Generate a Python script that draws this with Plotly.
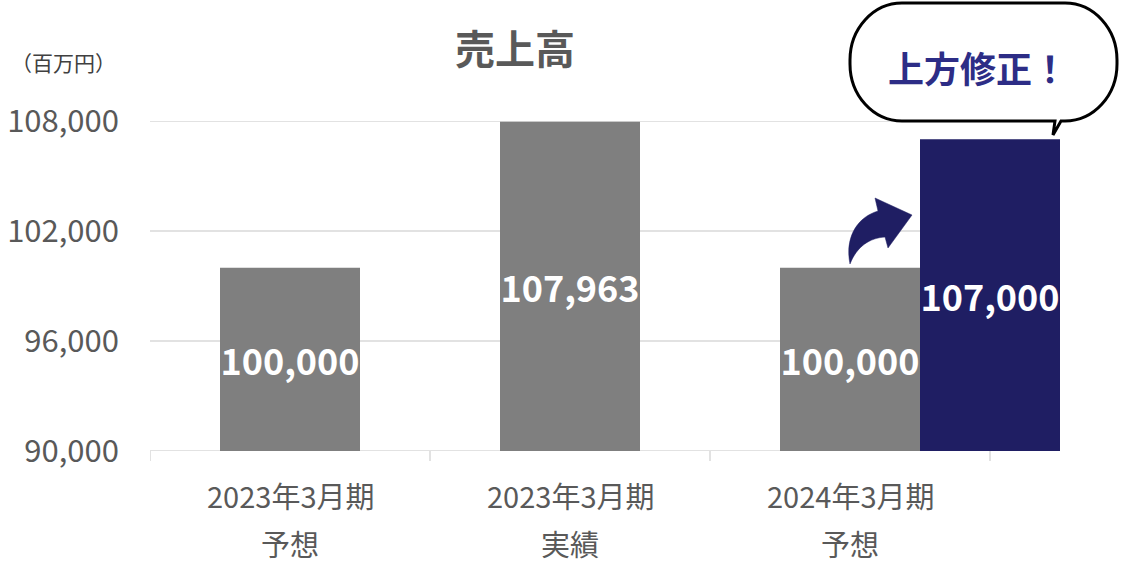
import plotly.graph_objects as go

# ---- data ----
categories_line1 = ["2023年3月期", "2023年3月期", "2024年3月期"]
categories_line2 = ["予想", "実績", "予想"]
gray_values = [100000, 107963, 100000]
revised_values = [107000]
y_ticks = [90000, 96000, 102000, 108000]
y_tick_labels = ["90,000", "96,000", "102,000", "108,000"]
y_base = 90000
y_top = 108000

# ---- layout constants (pixels, in reference screenshot coordinates) ----
W, H = 1128, 563
L, R, T, B = 150, 1062, 121, 451
SLOT = 280.0
x_max = (R - L) / SLOT
FONT = "Noto Sans CJK JP"
GRAY = "#7f7f7f"
NAVY = "#1f1e63"
GRID = "#d9d9d9"
TXT = "#595959"

slot_centers = [i + 0.5 for i in range(len(gray_values))]
revised_x = [len(gray_values)]


def px(x):
    return (x - L) / (R - L)


def py(y):
    return (B - y) / (B - T)


def ppath(cmds):
    out = []
    for c in cmds:
        op = c[0]
        pts = c[1:]
        s = op
        for i in range(0, len(pts), 2):
            s += f" {px(pts[i]):.5f},{py(pts[i+1]):.5f}"
        out.append(s)
    return " ".join(out) + " Z"


fig = go.Figure()
fig.add_trace(go.Bar(
    x=slot_centers, y=[v - y_base for v in gray_values], base=y_base, width=0.5,
    marker=dict(color=GRAY, line=dict(width=0)),
    text=[f"{v:,}" for v in gray_values], textposition="inside", insidetextanchor="middle",
    textangle=0,
    textfont=dict(color="white", size=36, family=FONT, weight="bold"),
    hoverinfo="skip", showlegend=False,
))
fig.add_trace(go.Bar(
    x=revised_x, y=[v - y_base for v in revised_values], base=y_base, width=0.5,
    marker=dict(color=NAVY, line=dict(width=0)),
    text=[f"{v:,}" for v in revised_values], textposition="inside", insidetextanchor="middle",
    textangle=0,
    textfont=dict(color="white", size=36, family=FONT, weight="bold"),
    hoverinfo="skip", showlegend=False,
))

shapes = []
for yv in y_ticks:
    shapes.append(dict(type="line", xref="x", yref="y", x0=0, x1=len(gray_values), y0=yv, y1=yv,
                       line=dict(color=GRID, width=1.5), layer="below"))
for xv in range(len(gray_values) + 1):
    shapes.append(dict(type="line", xref="x", yref="paper", x0=xv, x1=xv, y0=0, y1=-10 / (B - T),
                       line=dict(color=GRID, width=1.5), layer="below"))

# curved arrow
arrow = [
    ("M", 850, 264),
    ("C", 845, 240, 855, 218, 878, 211),
    ("L", 875, 198),
    ("L", 912, 215),
    ("L", 888, 248),
    ("L", 885, 237),
    ("C", 870, 238, 857, 246, 850, 264),
]
shapes.append(dict(type="path", xref="paper", yref="paper", path=ppath(arrow),
                   fillcolor=NAVY, line=dict(color=NAVY, width=0.5), layer="above"))

# speech bubble
bl, br, bt, bb = 850, 1117, 3, 121
rx, ry = 52, 57
k = 0.5523
bubble = [
    ("M", 1052, bb),
    ("L", bl + rx, bb),
    ("C", bl + rx - k * rx, bb, bl, bb - ry + k * ry, bl, bb - ry),
    ("L", bl, bt + ry),
    ("C", bl, bt + ry - k * ry, bl + rx - k * rx, bt, bl + rx, bt),
    ("L", br - rx, bt),
    ("C", br - rx + k * rx, bt, br, bt + ry - k * ry, br, bt + ry),
    ("L", br, bb - ry),
    ("C", br, bb - ry + k * ry, br - rx + k * rx, bb, br - rx, bb),
    ("L", 1061, bb),
    ("L", 1053, 135),
    ("L", 1055, bb),
]
shapes.append(dict(type="path", xref="paper", yref="paper", path=ppath(bubble),
                   fillcolor="white", line=dict(color="black", width=3), layer="above"))

annotations = []
for xc, l1, l2 in zip(slot_centers, categories_line1, categories_line2):
    annotations.append(dict(x=xc, y=py(495), xref="x", yref="paper", text=l1, showarrow=False,
                            font=dict(family=FONT, size=29, color=TXT), xanchor="center", yanchor="middle"))
    annotations.append(dict(x=xc, y=py(543), xref="x", yref="paper", text=l2, showarrow=False,
                            font=dict(family=FONT, size=29, color=TXT), xanchor="center", yanchor="middle"))
annotations.append(dict(x=px(63), y=py(62), xref="paper", yref="paper", text="（百万円）", showarrow=False,
                        font=dict(family=FONT, size=21, color="#404040"), xanchor="center", yanchor="middle"))
annotations.append(dict(x=px(978), y=py(67), xref="paper", yref="paper", text="<b>上方修正！</b>", showarrow=False,
                        font=dict(family=FONT, size=36, color="#2d2d86"), xanchor="center", yanchor="middle"))

fig.update_layout(
    width=W, height=H,
    margin=dict(l=L, r=W - R, t=T, b=H - B, autoexpand=False),
    paper_bgcolor="white", plot_bgcolor="white",
    barmode="overlay",
    uniformtext=dict(minsize=36, mode="show"),
    title=dict(text="<b>売上高</b>", x=515 / W, y=1 - 50 / H, xref="container", yref="container",
               xanchor="center", yanchor="middle", font=dict(family=FONT, size=40, color=TXT)),
    xaxis=dict(range=[0, x_max], showgrid=False, zeroline=False, showline=False,
               showticklabels=False, ticks="", fixedrange=True),
    yaxis=dict(range=[y_base, y_top], tickvals=y_ticks, ticktext=y_tick_labels, showgrid=False,
               zeroline=False, showline=False, ticks="", ticklabelstandoff=30,
               tickfont=dict(family=FONT, size=31, color=TXT), fixedrange=True),
    shapes=shapes,
    annotations=annotations,
    font=dict(family=FONT),
)

fig.write_html(
    "out.html",
    config={"displayModeBar": False},
    post_script="document.body.style.margin='0px';document.body.style.overflow='hidden';",
)
